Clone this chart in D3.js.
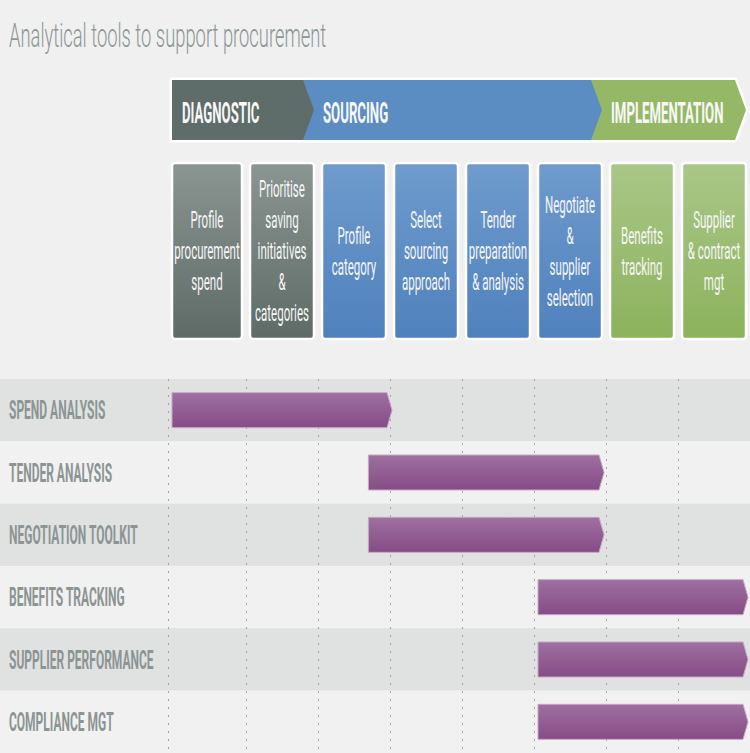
<!DOCTYPE html>
<html>
<head>
<meta charset="utf-8">
<script src="https://cdn.jsdelivr.net/npm/d3@7"></script>
<style>
  html, body { margin: 0; padding: 0; background: #f0f0f0; }
  svg { display: block; font-family: Roboto, "Liberation Sans", sans-serif; }
</style>
</head>
<body>
<svg id="chart"></svg>
<script>
var width = 750;
var height = 753;

var title = "Analytical tools to support procurement";

// phases across the top (in column units)
var phases = ["DIAGNOSTIC", "SOURCING", "IMPLEMENTATION"];
var phaseStart = [0, 2, 6];
var phaseEnd = [2, 6, 8];

// process steps, one per column
var steps = [
    ["Profile", "procurement", "spend"],
    ["Prioritise", "saving", "initiatives", "&", "categories"],
    ["Profile", "category"],
    ["Select", "sourcing", "approach"],
    ["Tender", "preparation", "& analysis"],
    ["Negotiate", "&", "supplier", "selection"],
    ["Benefits", "tracking"],
    ["Supplier", "& contract", "mgt"]
];
var stepPhase = [0, 0, 1, 1, 1, 1, 2, 2];

// tools and the columns they cover
var tools = ["SPEND ANALYSIS", "TENDER ANALYSIS", "NEGOTIATION TOOLKIT",
             "BENEFITS TRACKING", "SUPPLIER PERFORMANCE", "COMPLIANCE MGT"];
var toolStart = [0, 2.7, 2.7, 5, 5, 5];
var toolEnd = [3, 6, 6, 8, 8, 8];

var colours = ["#5f6d6a", "#5b8dc3", "#94b866"];
var boxTop = ["#8b9592", "#6f9bcd", "#a9c787"];
var boxBottom = ["#5e6b67", "#4f81bd", "#8cb25c"];

var svg = d3.select("#chart")
    .attr("width", width)
    .attr("height", height);

var defs = svg.append("defs");

colours.forEach(function(c, i) {
    var g = defs.append("linearGradient")
        .attr("id", "box-grad-" + i)
        .attr("x1", 0).attr("y1", 0).attr("x2", 0).attr("y2", 1);
    g.append("stop").attr("offset", "0%").attr("stop-color", boxTop[i]);
    g.append("stop").attr("offset", "100%").attr("stop-color", boxBottom[i]);
});

var barGrad = defs.append("linearGradient")
    .attr("id", "bar-grad")
    .attr("x1", 0).attr("y1", 0).attr("x2", 0).attr("y2", 1);
barGrad.append("stop").attr("offset", "0%").attr("stop-color", "#9e70a0");
barGrad.append("stop").attr("offset", "100%").attr("stop-color", "#864c86");

// first column is a little wider than the rest
var x = d3.scaleLinear()
    .domain([0, 1, 8])
    .range([168, 246, 750]);

var y = d3.scaleBand()
    .domain(tools)
    .range([379, height]);

// squeezed text helper, the original uses a condensed face
function squeezed(parent, tx, ty, k, txt) {
    var g = parent.append("g")
        .attr("transform", "translate(" + tx + "," + ty + ") scale(" + k + ",1)");
    return g.append("text").text(txt);
}

// title
squeezed(svg, 9, 47, 0.54, title)
    .attr("font-size", 34)
    .attr("font-weight", 300)
    .attr("fill", "#8c9696");

// header band
var bandTop = 80, bandBot = 140, bandMid = (bandTop + bandBot) / 2;
var bandX0 = x(0) + 4;
var tipDepth = 11;

function chevron(x0, xe) {
    return "M" + x0 + "," + bandTop + "H" + (xe - tipDepth) + "L" + xe + "," + bandMid +
        "L" + (xe - tipDepth) + "," + bandBot + "H" + x0 + "Z";
}

svg.append("path")
    .attr("d", chevron(bandX0, x(8) - 4))
    .attr("fill", "#fff")
    .attr("stroke", "#fff")
    .attr("stroke-width", 5)
    .attr("stroke-linejoin", "round");

var phaseG = svg.append("g");
d3.range(phases.length).reverse().forEach(function(i) {
    phaseG.append("path")
        .attr("d", chevron(bandX0, x(phaseEnd[i]) - 4))
        .attr("fill", colours[i]);
});

phases.forEach(function(p, i) {
    var tx = i === 0 ? bandX0 + 10 : x(phaseStart[i]) + 5;
    squeezed(svg, tx, bandMid + 13, 0.455, p)
        .attr("font-size", 29)
        .attr("font-weight", 700)
        .attr("fill", "#f7f7f7");
});

// step boxes
var boxY0 = 163, boxY1 = 339, boxMid = (boxY0 + boxY1) / 2;
var lineH = 31;

var box = svg.selectAll(".step")
    .data(steps)
    .enter()
    .append("g")
    .attr("class", "step");

box.append("rect")
    .attr("x", function(d, i) { return x(i) + 4; })
    .attr("y", boxY0)
    .attr("width", function(d, i) { return x(i + 1) - x(i) - 8; })
    .attr("height", boxY1 - boxY0)
    .attr("rx", 3)
    .attr("fill", function(d, i) { return "url(#box-grad-" + stepPhase[i] + ")"; })
    .attr("stroke", "#fff")
    .attr("stroke-width", 2.5);

box.each(function(lines, i) {
    var cx = (x(i) + x(i + 1)) / 2;
    var n = lines.length;
    lines.forEach(function(line, j) {
        var cy = boxMid + (j - (n - 1) / 2) * lineH;
        squeezed(d3.select(this), cx, cy + 8, 0.5, line)
            .attr("text-anchor", "middle")
            .attr("font-size", 23)
            .attr("font-weight", 400)
            .attr("fill", "#f6f6f6");
    }, this);
});

// row stripes
svg.selectAll(".stripe")
    .data(tools)
    .enter()
    .append("rect")
    .attr("class", "stripe")
    .attr("x", 0)
    .attr("y", function(d) { return y(d); })
    .attr("width", width)
    .attr("height", y.bandwidth())
    .attr("fill", function(d, i) { return i % 2 === 0 ? "#e0e1e1" : "#f1f1f1"; });

// dashed column lines
svg.selectAll(".grid")
    .data(d3.range(9))
    .enter()
    .append("line")
    .attr("class", "grid")
    .attr("x1", function(d) { return x(d) + 0.5; })
    .attr("x2", function(d) { return x(d) + 0.5; })
    .attr("y1", y.range()[0])
    .attr("y2", height)
    .attr("stroke", "#a3a6a6")
    .attr("stroke-width", 1)
    .attr("stroke-dasharray", "2,6");

// row labels
tools.forEach(function(t) {
    squeezed(svg, 9, y(t) + y.bandwidth() / 2 + 9, 0.48, t)
        .attr("font-size", 25)
        .attr("font-weight", 700)
        .attr("fill", "#8b9593");
});

// tool bars
var barH = 35;
var tip = 5;
svg.selectAll(".bar")
    .data(tools)
    .enter()
    .append("path")
    .attr("class", "bar")
    .attr("d", function(d, i) {
        var x0 = x(toolStart[i]) + (toolStart[i] % 1 === 0 ? 4 : 0);
        var xe = x(toolEnd[i]) + (toolEnd[i] === 3 ? 2 : -2);
        var y0 = y(d) + (y.bandwidth() - barH) / 2;
        var y1 = y0 + barH;
        return "M" + x0 + "," + y0 + "H" + (xe - tip) + "L" + xe + "," + (y0 + barH / 2) +
            "L" + (xe - tip) + "," + y1 + "H" + x0 + "Z";
    })
    .attr("fill", "url(#bar-grad)")
    .attr("stroke", "#c7a7c6")
    .attr("stroke-width", 1);
</script>
</body>
</html>
